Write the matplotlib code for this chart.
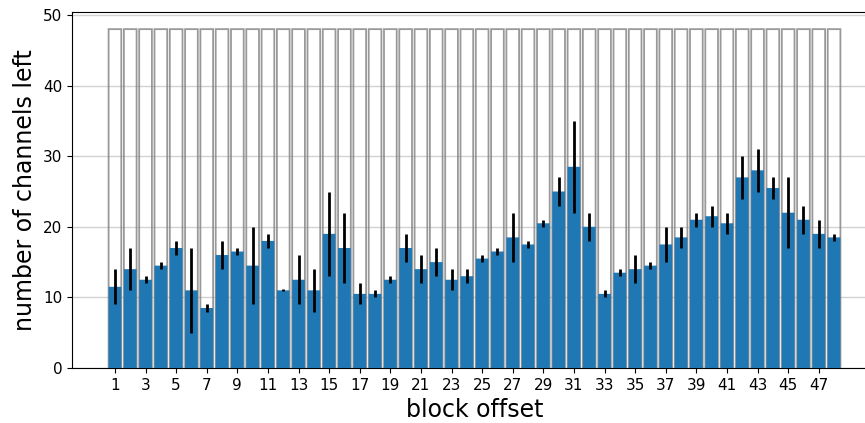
import matplotlib
matplotlib.use("Agg")
import matplotlib.pyplot as plt
import numpy as np

blocks = list(range(1, 49))
channels_left = [11.5, 14, 12.5, 14.5, 17, 11, 8.5, 16, 16.5, 14.5,
                 18, 11, 12.5, 11, 19, 17, 10.5, 10.5, 12.5, 17,
                 14, 15, 12.5, 13, 15.5, 16.5, 18.5, 17.5, 20.5, 25,
                 28.5, 20, 10.5, 13.5, 14, 14.5, 17.5, 18.5, 21, 21.5,
                 20.5, 27, 28, 25.5, 22, 21, 19, 18.5]
errors = [2.5, 3, 0.5, 0.5, 1, 6, 0.5, 2, 0.5, 5.5,
          1, 0.15, 3.5, 3, 6, 5, 1.5, 0.5, 0.5, 2,
          2, 2, 1.5, 1, 0.5, 0.5, 3.5, 0.5, 0.5, 2,
          6.5, 2, 0.5, 0.5, 2, 0.5, 2.5, 1.5, 1, 1.5,
          1.5, 3, 3, 1.5, 5, 2, 2, 0.5]
total_channels = [48] * 48
tick_labels = [str(b) for b in range(1, 49, 2)]

W, H = 865, 423
fig = plt.figure(figsize=(W / 100, H / 100), dpi=100)
left_px, right_px, top_px, bottom_px = 72, 877, 12.2, 368
ax = fig.add_axes([left_px / W, (H - bottom_px) / H,
                   (right_px - left_px) / W, (bottom_px - top_px) / H])

outline = ax.bar(blocks, total_channels, width=0.83, fill=False,
                 edgecolor="gray", linewidth=1.3, alpha=0.8, zorder=2)
for p in outline:
    p.set_snap(False)
blue = ax.bar(blocks, channels_left, width=0.83, color="#1f77b4", zorder=3,
              yerr=errors, error_kw=dict(elinewidth=2, ecolor="black", capsize=0, zorder=4))
for p in blue:
    p.set_snap(False)

ax.set_xticks(list(range(1, 49, 2)))
ax.set_xticklabels(tick_labels, fontsize=11)
ax.tick_params(axis="y", labelsize=11)
ax.set_yticks([0, 10, 20, 30, 40, 50])
ax.yaxis.grid(True, color="gray", alpha=0.35, linewidth=1)
ax.set_axisbelow(True)
ax.set_xlabel("block offset", fontsize=17)
ax.set_ylabel("number of channels left", fontsize=17)
ax.spines["right"].set_visible(False)

fig.savefig("out.png", dpi=100)
